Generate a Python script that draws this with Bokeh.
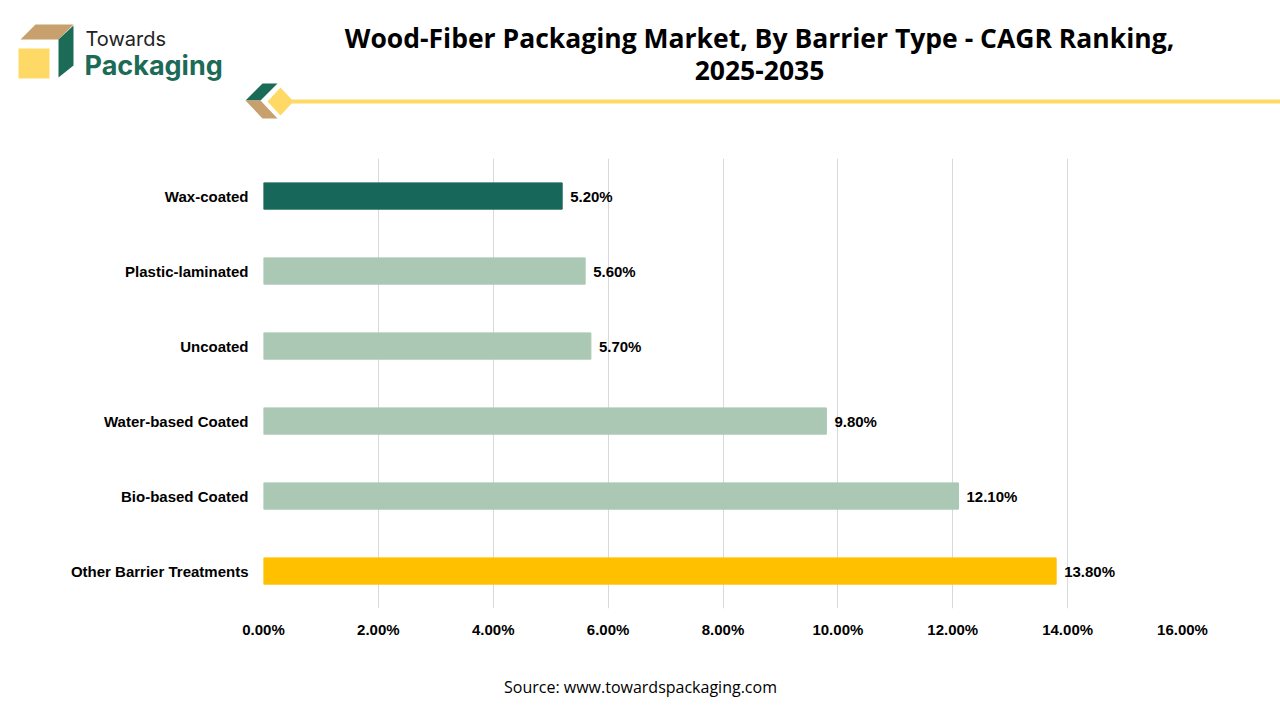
from bokeh.plotting import figure
from bokeh.models import Range1d, FactorRange, FixedTicker, PrintfTickFormatter, ColumnDataSource
from bokeh.layouts import column
from bokeh.core.properties import value
from bokeh.embed import file_html
from bokeh.resources import INLINE

# ---- data ----
categories = ["Wax-coated", "Plastic-laminated", "Uncoated", "Water-based Coated",
              "Bio-based Coated", "Other Barrier Treatments"]
cagr = [5.2, 5.6, 5.7, 9.8, 12.1, 13.8]
bar_colors = ["#17685A", "#ABC8B5", "#ABC8B5", "#ABC8B5", "#ABC8B5", "#FFC000"]
x_ticks = [0, 2, 4, 6, 8, 10, 12, 14, 16]
title_lines = ["Wood-Fiber Packaging Market, By Barrier Type - CAGR Ranking,", "2025-2035"]
source_text = "Source: www.towardspackaging.com"

W = 1280
GREEN = "#1B6B57"
BROWN = "#C8A06E"
YELLOW = "#FFD966"

def blank(height, y0, y1):
    f = figure(width=W, height=height, x_range=Range1d(0, W), y_range=Range1d(y1, y0),
               output_backend="svg", toolbar_location=None, x_axis_type=None, y_axis_type=None,
               min_border=0, min_border_left=0, min_border_right=0, min_border_top=0,
               min_border_bottom=0)
    f.grid.visible = False
    f.outline_line_color = None
    f.background_fill_color = "white"
    f.border_fill_color = "white"
    try:
        f.frame_align = False
    except Exception:
        pass
    return f

# ---- header ----
h = blank(152, 0, 152)
h.patches(xs=[[20, 35, 73, 58], [58, 73, 73, 58], [18, 49, 49, 18]],
          ys=[[39, 24, 24, 39], [39, 25, 65, 77], [48, 48, 78, 78]],
          fill_color=[BROWN, GREEN, YELLOW], line_color=None)
h.text(x=[85], y=[38], text=["Towards"], text_font=value("Inter"), text_font_size="20px",
       text_color="#222222", text_baseline="alphabetic")
h.text(x=[84], y=[65], text=["Packaging"], text_font=value("Inter"), text_font_size="27px",
       text_font_style="bold", text_color=GREEN, text_baseline="alphabetic")
# decoration
h.line(x=[288, 1280], y=[101, 101], line_color=YELLOW, line_width=4)
h.patches(xs=[[245, 262, 277, 260], [245, 260, 277, 262], [280, 293, 280, 267]],
          ys=[[100, 83, 83, 100], [100, 100, 118, 118], [87, 101, 115, 101]],
          fill_color=[GREEN, BROWN, YELLOW], line_color=None)
h.text(x=[759, 759], y=[37, 70], text=title_lines, text_font=value("Open Sans"),
       text_font_size="26.5px", text_font_style="bold", text_color="black",
       text_align="center", text_baseline="middle")

# ---- chart ----
src = ColumnDataSource(dict(cat=categories, val=cagr, color=bar_colors,
                            label=["%.2f%%" % v for v in cagr]))
p = figure(width=W, height=508, y_range=FactorRange(factors=list(reversed(categories))),
           x_range=Range1d(0, 16), output_backend="svg", toolbar_location=None,
           min_border_left=263, min_border_right=98, min_border_top=6, min_border_bottom=52)
p.outline_line_color = None
try:
    p.frame_align = False
except Exception:
    pass
p.hbar(y="cat", right="val", left=0, height=0.35, color="color", source=src)
p.text(x="val", y="cat", text="label", source=src, x_offset=8, text_baseline="middle",
       text_font=value("Liberation Sans"), text_font_size="15px", text_font_style="bold",
       text_color="black")
p.xaxis.ticker = FixedTicker(ticks=x_ticks)
p.xaxis.formatter = PrintfTickFormatter(format="%.2f%%")
for ax in (p.xaxis[0], p.yaxis[0]):
    ax.axis_line_color = None
    ax.major_tick_line_color = None
    ax.minor_tick_line_color = None
    ax.major_tick_in = 0
    ax.major_tick_out = 0
    ax.major_label_text_font = "Liberation Sans"
    ax.major_label_text_font_size = "15px"
    ax.major_label_text_font_style = "bold"
    ax.major_label_text_color = "black"
p.xaxis.major_label_standoff = 12
p.yaxis.major_label_standoff = 15
p.xgrid.grid_line_color = "#D9D9D9"
p.ygrid.grid_line_color = None

# ---- footer ----
fo = blank(60, 660, 720)
fo.text(x=[640], y=[686], text=[source_text], text_font=value("Open Sans"),
        text_font_size="16px", text_color="black", text_align="center", text_baseline="middle")

layout = column(h, p, fo, spacing=0)
open("out.html", "w").write(file_html(layout, INLINE))
